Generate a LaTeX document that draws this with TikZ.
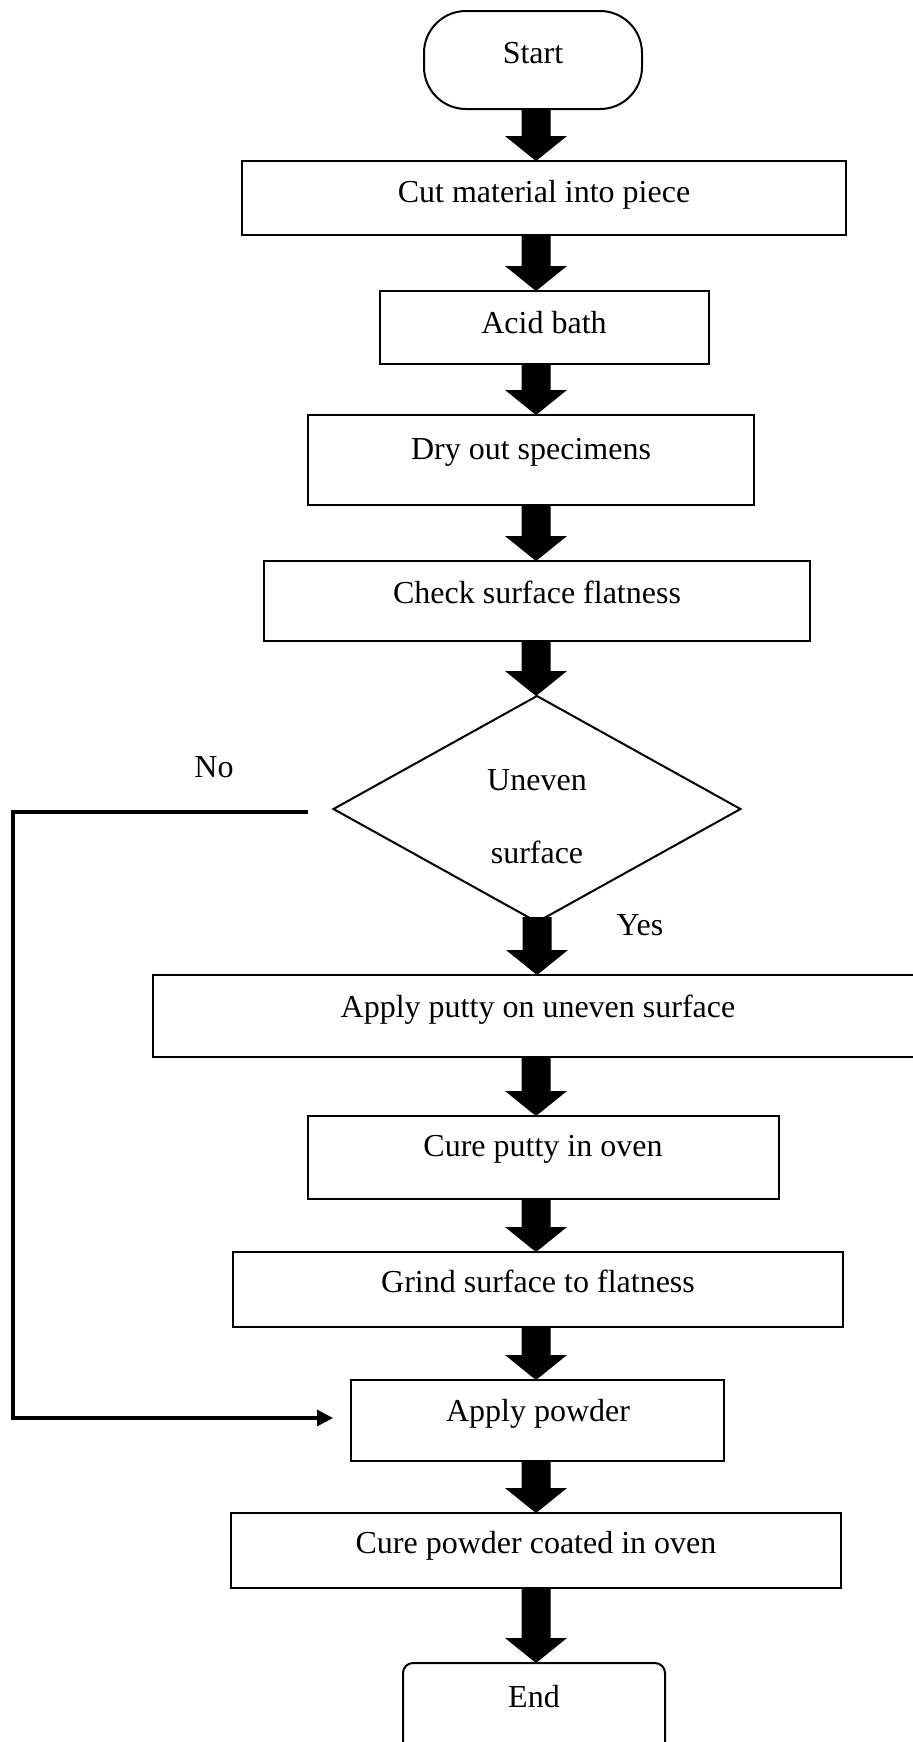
\documentclass[tikz,border=0pt]{standalone}
\usepackage{fontspec}
\setmainfont{Liberation Serif}
\usetikzlibrary{arrows.meta,fit,shapes.geometric,calc}
\newcommand\barr[2]{\fill let \p1=(#1), \p2=(#2) in
  (\x1-7.25pt,\y1) -- (\x1+7.25pt,\y1) -- (\x1+7.25pt,\y2+12.5pt) -- (\x1+15.5pt,\y2+12.5pt)
  -- (\x1,\y2) -- (\x1-15.5pt,\y2+12.5pt) -- (\x1-7.25pt,\y2+12.5pt) -- cycle;}
\begin{document}
\begin{tikzpicture}[x=0.5pt,y=-0.5pt,
  box/.style={draw, line width=1pt, inner sep=0pt, outer sep=0pt},
  txt/.style={anchor=base, inner sep=0pt, font=\fontsize{16}{19}\selectfont},
  noline/.style={line width=1.6pt}]
\useasboundingbox (0,0) rectangle (912,1742);
\coordinate (axis) at (536,0);
% boxes
\node[box, rounded corners=21pt, fit={(424,11) (642,109)}] (start) {};
\node[box, fit={(242,161) (846,235)}] (cut) {};
\node[box, fit={(380,291) (709,364)}] (acid) {};
\node[box, fit={(308,415) (754,505)}] (dry) {};
\node[box, fit={(264,561) (810,641)}] (check) {};
\node[box, diamond, minimum width=203.5pt, minimum height=113pt] (dia) at (537,809) {};
\node[box, fit={(153,975) (918,1057)}] (putty) {};
\node[box, fit={(308,1116) (779,1199)}] (cureputty) {};
\node[box, fit={(233,1252) (843,1327)}] (grind) {};
\node[box, fit={(351,1380) (724,1461)}] (powder) {};
\node[box, fit={(231,1513) (841,1588)}] (curepowder) {};
\node[box, rounded corners=5pt, fit={(403,1663) (665,1762)}] (end) {};
% texts
\node[txt] (tstart) at (533,63) {Start};
\node[txt] (tcut) at (544,202) {Cut material into piece};
\node[txt] (tacid) at (544,333) {Acid bath};
\node[txt] (tdry) at (531,459) {Dry out specimens};
\node[txt] (tcheck) at (537,603) {Check surface flatness};
\node[txt] (tuneven) at (537,790) {Uneven};
\node[txt] (tsurface) at (537,863) {surface};
\node[txt] (tno) at (214,777) {No};
\node[txt] (tyes) at (640,935) {Yes};
\node[txt] (tputty) at (538,1017) {Apply putty on uneven surface};
\node[txt] (tcureputty) at (543,1156) {Cure putty in oven};
\node[txt] (tgrind) at (538,1292) {Grind surface to flatness};
\node[txt] (tpowder) at (538,1421) {Apply powder};
\node[txt] (tcurepowder) at (536,1553) {Cure powder coated in oven};
\node[txt] (tend) at (534,1707) {End};
% block arrows
\barr{start.south -| axis}{cut.north -| axis}
\barr{cut.south -| axis}{acid.north -| axis}
\barr{acid.south -| axis}{dry.north -| axis}
\barr{dry.south -| axis}{check.north -| axis}
\barr{check.south -| axis}{dia.north}
\barr{[yshift=2.5pt]dia.south}{putty.north -| axis}
\barr{putty.south -| axis}{cureputty.north -| axis}
\barr{cureputty.south -| axis}{grind.north -| axis}
\barr{grind.south -| axis}{powder.north -| axis}
\barr{powder.south -| axis}{curepowder.north -| axis}
\barr{curepowder.south -| axis}{end.north -| axis}
% No branch
\coordinate (nostart) at (308,812);
\coordinate (noend) at (333,1418);
\draw[noline, -{Triangle[length=8pt,width=8pt]}] (nostart) -- (13,812) -- (13,1418) -- (noend);
\end{tikzpicture}
\end{document}
